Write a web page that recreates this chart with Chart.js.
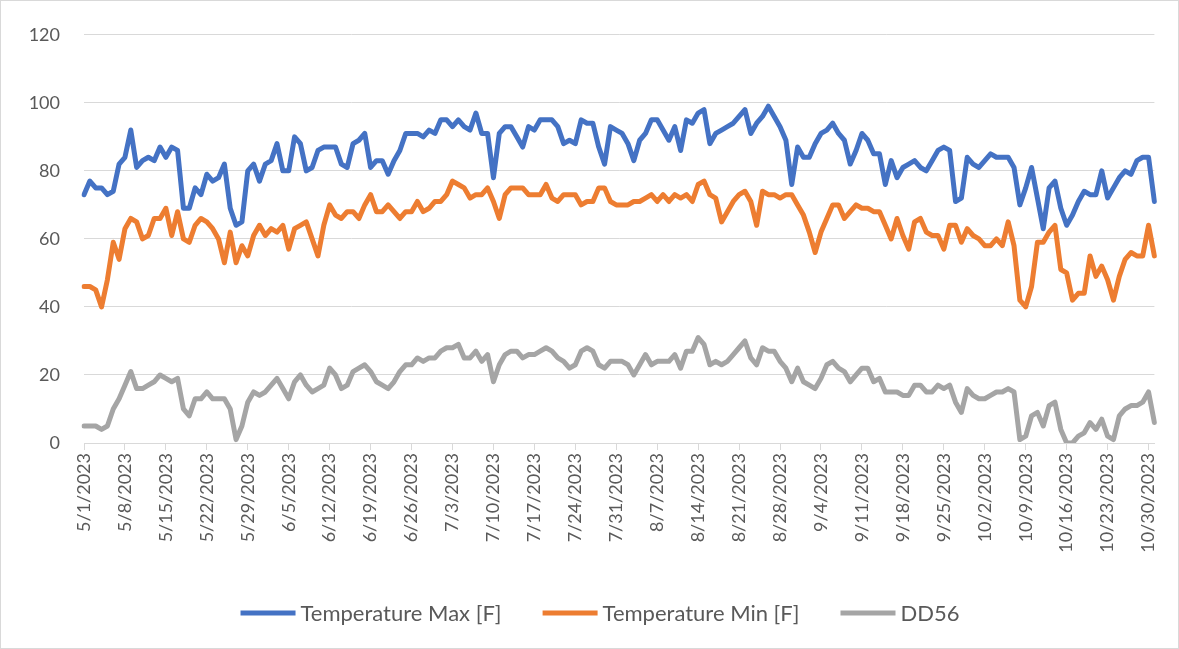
<!DOCTYPE html>
<html>
<head>
<meta charset="utf-8">
<script src="https://cdn.jsdelivr.net/npm/chart.js@4.4.1/dist/chart.umd.min.js"></script>
<style>
  html, body { margin: 0; padding: 0; background: #ffffff; }
  #wrap { width: 1179px; height: 649px; position: relative; }
  canvas { display: block; }
</style>
</head>
<body>
<div id="wrap"><canvas id="c" width="1179" height="649"></canvas></div>
<script>
// ---- categories (daily, 5/1/2023 .. 10/31/2023) ----
const months = [5, 6, 7, 8, 9, 10];
const monthDays = [31, 30, 31, 31, 30, 31];
const categories = [];
months.forEach((m, k) => { for (let d = 1; d <= monthDays[k]; d++) categories.push(m + '/' + d + '/2023'); });

// ---- Temperature Max [F] ----
const maxMay = [73,77,75,75,73,74,82,84,92,81, 83,84,83,87,84,87,86,69,69,75, 73,79,77,78,82,69,64,65,80,82,77];
const maxJun = [82,83,88,80,80,90,88,80,81,86, 87,87,87,82,81,88,89,91,81,83, 83,79,83,86,91,91,91,90,92,91];
const maxJul = [95,95,93,95,93,92,97,91,91,78, 91,93,93,90,87,93,92,95,95,95, 93,88,89,88,95,94,94,87,82,93,92];
const maxAug = [91,88,83,89,91,95,95,92,89,93, 86,95,94,97,98,88,91,92,93,94, 96,98,91,94,96,99,96,93,89,76,87];
const maxSep = [84,84,88,91,92,94,91,89,82,86, 91,89,85,85,76,83,78,81,82,83, 81,80,83,86,87,86,71,72,84,82];
const maxOct = [81,83,85,84,84,84,81,70,75,81, 72,63,75,77,69,64,67,71,74,73, 73,80,72,75,78,80,79,83,84,84,71];

// ---- Temperature Min [F] ----
const minMay = [46,46,45,40,48,59,54,63,66,65, 60,61,66,66,69,61,68,60,59,64, 66,65,63,60,53,62,53,58,55,61,64];
const minJun = [61,63,62,64,57,63,64,65,60,55, 64,70,67,66,68,68,66,70,73,68, 68,70,68,66,68,68,71,68,69,71];
const minJul = [71,73,77,76,75,72,73,73,75,71, 66,73,75,75,75,73,73,73,76,72, 71,73,73,73,70,71,71,75,75,71,70];
const minAug = [70,70,71,71,72,73,71,73,71,73, 72,73,71,76,77,73,72,65,68,71, 73,74,71,64,74,73,73,72,73,73,70];
const minSep = [67,62,56,62,66,70,70,66,68,70, 69,69,68,68,64,60,66,61,57,65, 66,62,61,61,57,64,64,59,63,61];
const minOct = [60,58,58,60,58,65,58,42,40,46, 59,59,62,64,51,50,42,44,44,55, 49,52,48,42,49,54,56,55,55,64,55];

// ---- DD56 ----
const ddMay = [5,5,5,4,5,10,13,17,21,16, 16,17,18,20,19,18,19,10,8,13, 13,15,13,13,13,10,1,5,12,15,14];
const ddJun = [15,17,19,16,13,18,20,17,15,16, 17,22,20,16,17,21,22,23,21,18, 17,16,18,21,23,23,25,24,25,25];
const ddJul = [27,28,28,29,25,25,27,24,26,18, 23,26,27,27,25,26,26,27,28,27, 25,24,22,23,27,28,27,23,22,24,24];
const ddAug = [24,23,20,23,26,23,24,24,24,26, 22,27,27,31,29,23,24,23,24,26, 28,30,25,23,28,27,27,24,22,18,22];
const ddSep = [18,17,16,19,23,24,22,21,18,20, 22,22,18,19,15,15,15,14,14,17, 17,15,15,17,16,17,12,9,16,14];
const ddOct = [13,13,14,15,15,16,15,1,2,8, 9,5,11,12,4,0,0,2,3,6, 4,7,2,1,8,10,11,11,12,15,6];

const tempMax = [].concat(maxMay, maxJun, maxJul, maxAug, maxSep, maxOct);
const tempMin = [].concat(minMay, minJun, minJul, minAug, minSep, minOct);
const dd56 = [].concat(ddMay, ddJun, ddJul, ddAug, ddSep, ddOct);

const seriesNames = ['Temperature Max [F]', 'Temperature Min [F]', 'DD56'];
const seriesColors = ['#4472C4', '#ED7D31', '#A5A5A5'];
const yTicks = [0, 20, 40, 60, 80, 100, 120];
const labelEvery = 7;

const FONT = 'Lato, "Liberation Sans", sans-serif';
const TEXT = '#595959';
const GRID = '#d9d9d9';

const frame = {
  id: 'frame',
  beforeDraw(chart) {
    const c = chart.ctx;
    c.save();
    c.fillStyle = '#ffffff';
    c.fillRect(0, 0, chart.width, chart.height);
    c.restore();
  },
  afterDraw(chart) {
    const c = chart.ctx;
    c.save();
    c.strokeStyle = GRID;
    c.lineWidth = 1;
    c.strokeRect(0.5, 0.5, chart.width - 1, chart.height - 1);
    c.restore();
  }
};

// legend drawn from the datasets (line sample + label), centred under the chart
const bottomLegend = {
  id: 'bottomLegend',
  afterDraw(chart, args, opts) {
    const c = chart.ctx;
    c.save();
    c.font = opts.fontSize + 'px ' + FONT;
    c.textBaseline = 'middle';
    c.textAlign = 'left';
    const items = chart.data.datasets.map(d => ({ text: d.label, color: d.borderColor, w: c.measureText(d.label).width }));
    let total = 0;
    items.forEach((it, i) => { total += opts.lineLen + opts.gap + it.w + (i < items.length - 1 ? opts.itemGap : 0); });
    let x = opts.centerX - total / 2;
    const y = opts.y;
    items.forEach((it) => {
      c.strokeStyle = it.color;
      c.lineWidth = opts.lineWidth;
      c.lineCap = 'butt';
      c.beginPath();
      c.moveTo(x, y);
      c.lineTo(x + opts.lineLen, y);
      c.stroke();
      x += opts.lineLen + opts.gap;
      c.fillStyle = TEXT;
      c.fillText(it.text, x, y + 1);
      x += it.w + opts.itemGap;
    });
    c.restore();
  }
};

function ds(i, data) {
  return {
    label: seriesNames[i],
    data: data,
    borderColor: seriesColors[i],
    backgroundColor: seriesColors[i],
    borderWidth: 5,
    pointRadius: 0,
    pointHoverRadius: 0,
    tension: 0,
    borderJoinStyle: 'round',
    borderCapStyle: 'round',
    fill: false
  };
}

new Chart(document.getElementById('c'), {
  type: 'line',
  data: {
    labels: categories,
    datasets: [ds(0, tempMax), ds(1, tempMin), ds(2, dd56)]
  },
  options: {
    responsive: false,
    animation: false,
    layout: { padding: { left: 0, right: 23, top: 33, bottom: 84 } },
    plugins: {
      tooltip: { enabled: false },
      legend: { display: false },
      bottomLegend: { fontSize: 22, lineLen: 55, gap: 5, itemGap: 41, lineWidth: 5, centerX: 600, y: 613 }
    },
    scales: {
      x: {
        type: 'category',
        grid: {
          display: true,
          drawOnChartArea: false,
          drawTicks: true,
          tickLength: 7,
          color: (c) => (c.index % labelEvery === 0 ? GRID : 'rgba(0,0,0,0)')
        },
        border: { display: true, color: GRID, width: 1 },
        ticks: {
          autoSkip: false,
          maxRotation: 90,
          minRotation: 90,
          padding: 3,
          color: TEXT,
          font: { family: FONT, size: 18 },
          callback: (v, i) => (i % labelEvery === 0 ? categories[i] : '')
        },
        afterFit: (s) => { s.height = 122; }
      },
      y: {
        min: yTicks[0],
        max: yTicks[yTicks.length - 1],
        afterBuildTicks: (s) => { s.ticks = yTicks.map(v => ({ value: v })); },
        grid: { color: GRID, lineWidth: 1, drawTicks: false },
        border: { display: false },
        ticks: {
          padding: 24,
          color: TEXT,
          font: { family: FONT, size: 18 }
        },
        afterFit: (s) => { s.width = 84; }
      }
    }
  },
  plugins: [frame, bottomLegend]
});
</script>
</body>
</html>
